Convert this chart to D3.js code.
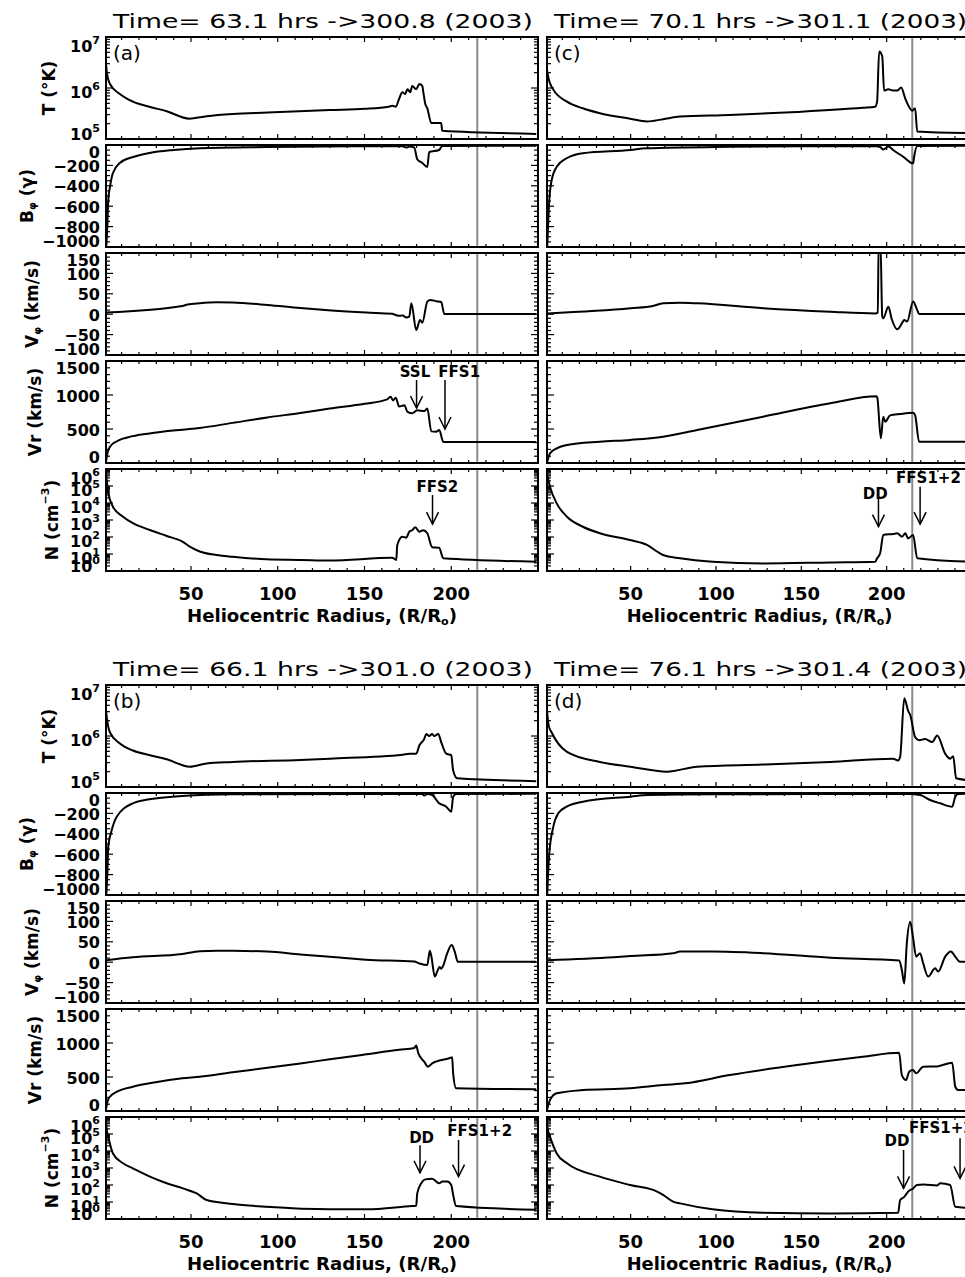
<!DOCTYPE html>
<html>
<head>
<meta charset="utf-8">
<script src="https://cdn.jsdelivr.net/npm/d3@7"></script>
<style>
  body { margin: 0; background: #fff; }
  svg { display: block; }
  text { font-family: "DejaVu Sans", sans-serif; fill: #000; }
</style>
</head>
<body>
<div id="chart"></div>
<script>
// ---- data: [radius (R/Ro), value] ----
const tempA = [[1,2.9e6],[1.5,2e6],[2.2,1.5e6],[3.3,1.2e6],[9,7.6e5],[16.5,5.4e5],[26,4.3e5],[36,3.5e5],[49,2.5e5],[59,2.8e5],[74,3.1e5],[94,3.3e5],[130,3.7e5],[150,3.9e5],[164,4.3e5],[166,4.5e5],[168,4.3e5],[170,6.2e5],[171.8,8.3e5],[173.5,7.6e5],[174.7,9.5e5],[176.4,8.3e5],[177.5,1.1e6],[179.8,9.5e5],[181.6,1.2e6],[183.3,1.1e6],[183.9,8.3e5],[185,4.9e5],[186.2,4e5],[188.5,2.05e5],[194.2,2.05e5],[194.8,1.45e5],[249,1.26e5]];
const bphiA = [[1,-1050],[1.75,-800],[2.3,-540],[3.3,-410],[5,-275],[9,-176],[16.5,-118],[26,-78],[40,-49],[55,-32],[94,-20],[150,-12],[172,-12],[174,-25],[176,-15],[178.7,-25],[180.4,-140],[183.3,-176],[186.2,-215],[187.3,-69],[193,-49],[194.8,-10],[249,-8]];
const vphiA = [[1,4],[45,20],[48,24],[55,27],[65,29],[74,28.5],[94,22.6],[113,15],[131,9],[151,4],[166,1],[168,-2],[170,-4],[172,-3],[174,-8],[175.8,-6],[177,27],[179.8,-39],[182,-14],[183.3,-21],[186.2,31],[187.9,35],[191.3,32],[194.2,30],[196,0.5],[249,0.5]];
const vrA = [[1,20],[2,160],[3.3,240],[7.3,320],[16.5,395],[26,435],[45,490],[55,515],[74,590],[94,670],[113,735],[130,800],[150,870],[163,935],[165,975],[166.5,920],[168,960],[170,830],[173,850],[174.7,755],[177.5,730],[180.4,775],[184.4,765],[186.2,800],[188.5,465],[191.3,460],[193.1,485],[195.4,310],[249,310]];
const densA = [[1,6e5],[1.5,1.8e5],[2.3,4e4],[5,6e3],[10.8,1.55e3],[16.5,650],[26.3,257],[36,115],[45.3,52],[49.3,27],[55,14],[64.8,8.7],[74,6.9],[93.6,4.9],[113,4.5],[130,4.1],[166,6],[168.3,4.5],[168.9,34],[171.8,105],[174,90],[175.8,204],[177.5,250],[179.3,370],[181.6,204],[183.9,250],[186.2,166],[189,25],[193,23],[195.4,5.6],[249,3.5]];

const tempB = [[1,3.1e6],[2,1.7e6],[3.3,1.17e6],[9,7.1e5],[16.5,5.2e5],[26.3,4.2e5],[36,3.5e5],[49.3,2.5e5],[59,2.9e5],[74,3.1e5],[113,3.4e5],[130,3.6e5],[172,4.3e5],[176,4.5e5],[179.8,4.5e5],[181.6,6.5e5],[184.4,8.7e5],[185.6,1.1e6],[187.3,1e6],[189,1.1e6],[190.2,1e6],[192.5,1.1e6],[194.2,7.6e5],[197.1,4.5e5],[200,4.2e5],[201.1,2.1e5],[203.4,1.48e5],[249,1.3e5]];
const bphiB = [[1,-1050],[1.75,-800],[2.3,-526],[4.3,-363],[7.2,-232],[16.5,-101],[26,-62],[45,-29],[74,-13],[150,-10],[183,-10],[184.4,-25],[186.2,-10],[189,-20],[193,-101],[197.1,-134],[200,-183],[201.1,-36],[202.8,-10],[249,-8]];
const vphiB = [[1,5],[16.5,12],[45,20],[55,27],[65,28],[74,28],[94,26],[113,19],[130,13.5],[151,6],[178.7,1.5],[181.6,-3],[186.2,-7],[187.6,28],[188.5,15],[190.5,-35],[192,-22],[193.2,-12],[194.2,-16],[195.2,-10],[197.7,22],[200.2,42],[202,26],[203.8,1],[249,1]];
const vrB = [[1,25],[2,150],[3.3,210],[7.3,284],[16.5,357],[26,407],[45,481],[55,504],[74,570],[94,635],[113,700],[130,760],[150,830],[170,900],[178.7,925],[179.8,965],[181,850],[184.4,725],[186.7,651],[189,700],[198.8,775],[200.5,790],[201.1,554],[202.8,334],[249,319]];
const densB = [[1,5e5],[1.5,1.6e5],[2.3,7e4],[5,7.2e3],[10.8,1.9e3],[16.5,955],[26.3,309],[36,126],[45.3,63],[53.3,32],[59,13],[74,7.6],[93.6,5.2],[130,3.7],[151,3.7],[177.5,5.8],[179.8,6],[180.4,32],[182.7,126],[185,214],[189,234],[193,126],[194.8,158],[197.7,158],[200,100],[201.1,26],[202.8,5.8],[249,3.5]];

const tempC = [[1,2.3e6],[2,1.5e6],[4.5,9.5e5],[12.7,5.4e5],[22,4e5],[32,3.2e5],[49.7,2.5e5],[59.6,2.2e5],[69,2.45e5],[79,2.75e5],[108,2.95e5],[147.5,3.4e5],[186,4.1e5],[193.3,4.3e5],[194.4,5.4e5],[195.6,5.2e6],[197.4,4.2e6],[198.5,8.9e5],[200.9,9.5e5],[203.8,8.9e5],[206.2,8.9e5],[208.5,1.02e6],[210.9,6.2e5],[212.6,4.6e5],[215,3.6e5],[216.7,4e5],[217.9,1.4e5],[249,1.3e5]];
const bphiC = [[1,-1050],[1.6,-800],[2.35,-540],[3.75,-343],[6.7,-213],[12.5,-130],[22,-81],[50,-49],[59,-32],[108,-17],[150,-12],[194,-12],[196.2,-20],[198,-45],[201,-15],[203.8,-49],[209.7,-115],[215.5,-180],[216.1,-115],[217.9,-10],[249,-8]];
const vphiC = [[1,2],[50,14.5],[63,20],[69,26.7],[79,28],[89,26.7],[127.6,14.5],[167,6],[193.3,2],[194.8,4],[195.3,170],[196.4,170],[197.4,-5],[198,-10],[201,18],[203,-12.5],[206.2,-37],[209,-22],[210.3,-14],[212,-18],[215.5,31],[217.9,10],[219,0.5],[249,0.5]];
const vrC = [[1,4],[2.8,143],[6.7,216],[12.7,265],[32,313],[49.7,340],[69,387],[89,485],[127.6,681],[167,878],[193.9,980],[194.5,960],[196.6,363],[198,681],[199.2,607],[202,700],[207.7,720],[215.5,739],[216.7,700],[219,313],[249,313]];
const densC = [[1,5.6e5],[2.76,9e4],[6.7,9.5e3],[12.7,1.55e3],[22,400],[32,166],[49.7,66],[59.6,34],[65.5,14],[69,8.7],[79,5.6],[98,3.5],[127.6,2.8],[167,3.2],[193.3,3.5],[194.4,5.6],[196.2,11],[198,132],[203.8,151],[206.2,166],[209,105],[210.9,166],[212.6,83],[215.5,132],[217.9,5.6],[249,3.5]];

const tempD = [[1,3.1e6],[2,1.6e6],[3.75,1.17e6],[12.7,4.9e5],[32,3.1e5],[49.7,2.5e5],[71.3,2e5],[89,2.5e5],[127.6,2.75e5],[166.9,3.1e5],[203.8,3.6e5],[206.7,3.3e5],[207.9,3.9e5],[210.3,5.5e6],[212.6,3.1e6],[213.8,2.6e6],[216.7,9.5e5],[219,8.3e5],[222.6,8.7e5],[226.7,7.6e5],[229.6,1.02e6],[234.3,4.5e5],[237.2,3.6e5],[239,4e5],[240.7,1.48e5],[249,1.35e5]];
const bphiD = [[1,-1050],[1.6,-800],[2.35,-591],[4.7,-330],[7.6,-199],[12.5,-134],[22,-85],[50,-36],[60,-20],[100,-12],[213,-10],[219.6,-20],[225.5,-69],[231.4,-101],[238.4,-134],[240.2,-36],[241.9,-10],[249,-8]];
const vphiD = [[1,5],[40,12],[50,15],[75,22],[79,26],[98,26],[127.6,22],[167,11],[207.3,4],[208.9,-19],[210.3,-52],[211.8,46],[213.8,99],[215.4,62],[217.3,13.5],[219.6,22],[221.4,-3],[224.3,-35],[228.4,-15],[230.2,-23],[234.3,13.5],[237.6,26],[240.2,13.5],[243,1],[249,1]];
const vrD = [[1,15],[2.76,162],[6.7,260],[22,309],[49.7,334],[69,382],[82,407],[108,529],[147.5,676],[186,798],[207.3,857],[208.9,529],[211.4,456],[213.2,578],[215.4,603],[217.3,554],[221.4,651],[229.6,656],[238.4,710],[240.2,357],[241.9,309],[249,309]];
const densD = [[1,6e5],[1.5,1.8e5],[2.76,7e4],[6.7,7.2e3],[12.7,1.9e3],[32,309],[49.7,100],[65.5,41],[69,26],[74.9,10.5],[79,8.3],[98,3.7],[127.6,2.3],[167,2.1],[206.7,2.3],[207.9,13],[210.3,20],[212.6,41],[215.5,63],[217.7,100],[221.4,107],[229.6,95],[231.4,126],[237.2,100],[240.2,5.2],[249,4.5]];

// annotations: arrow at r, from tailV down to tipV; label centred at (textR, textV)
const notesA = [
  { sub: 4 - 1, text: "SSL", r: 180, textR: 179.1, textV: 1338, tailV: 1220, tipV: 808 },
  { sub: 3, text: "FFS1", r: 196.4, textR: 204.6, textV: 1338, tailV: 1220, tipV: 500 },
  { sub: 4, text: "FFS2", r: 189.2, textR: 192, textV: 8.3e4, tailV: 2.95e4, tipV: 575 },
];
const notesB = [
  { sub: 4, text: "DD", r: 182, textR: 182.9, textV: 5.6e4, tailV: 2.2e4, tipV: 525 },
  { sub: 4, text: "FFS1+2", r: 204.2, textR: 216.4, textV: 1.55e5, tailV: 4.5e4, tipV: 309 },
];
const notesC = [
  { sub: 4, text: "DD", r: 195.2, textR: 193.3, textV: 3.4e4, tailV: 1.9e4, tipV: 407 },
  { sub: 4, text: "FFS1+2", r: 219.6, textR: 224.5, textV: 2.8e5, tailV: 9.1e4, tipV: 575 },
];
const notesD = [
  { sub: 4, text: "DD", r: 209.9, textR: 206, textV: 4e4, tailV: 1.15e4, tipV: 63 },
  { sub: 4, text: "FFS1+2", r: 243, textR: 232.1, textV: 2.2e5, tailV: 5.6e4, tipV: 245 },
];

const xDomain = [1, 250];
const xMajor = [50, 100, 150, 200];
const earthR = 215;

const panels = [
  { label: "(a)", title: "Time= 63.1 hrs ->300.8 (2003)", col: 0, row: 0, series: [tempA, bphiA, vphiA, vrA, densA], notes: notesA },
  { label: "(c)", title: "Time= 70.1 hrs ->301.1 (2003)", col: 1, row: 0, series: [tempC, bphiC, vphiC, vrC, densC], notes: notesC },
  { label: "(b)", title: "Time= 66.1 hrs ->301.0 (2003)", col: 0, row: 1, series: [tempB, bphiB, vphiB, vrB, densB], notes: notesB },
  { label: "(d)", title: "Time= 76.1 hrs ->301.4 (2003)", col: 1, row: 1, series: [tempD, bphiD, vphiD, vrD, densD], notes: notesD },
];

const vars = [
  { log: true, domain: [1e5, 1e7], titleX: 49 },
  { log: false, domain: [-1000, 0], major: 200, minor: 50, titleX: 27 },
  { log: false, domain: [-100, 150], major: 50, minor: 10, titleX: 32 },
  { log: false, domain: [0, 1500], major: 500, minor: 100, titleX: 35 },
  { log: true, domain: [1, 1e6], titleX: 52 },
];

// ---- layout ----
const colRanges = [[106, 538], [547, 972]];
const blockOffsets = [0, 648];
const subTops = [37, 145, 253, 361, 469];
const subH = 102;

const svg = d3.select("#chart").append("svg").attr("width", 965).attr("height", 1277);
const defs = svg.append("defs");
let clipId = 0;

function yTitle(g, i, cx, cy) {
  const t = g.append("text")
    .attr("transform", `translate(${cx},${cy}) rotate(-90)`)
    .attr("text-anchor", "middle").attr("dominant-baseline", "central")
    .attr("font-size", 17).attr("font-weight", "bold");
  if (i === 0) t.text("T (\u00b0K)");
  if (i === 1) { t.append("tspan").text("B"); t.append("tspan").attr("font-size", 10).attr("dy", 5).text("\u03c6"); t.append("tspan").attr("dy", -5).text(" (\u03b3)"); }
  if (i === 2) { t.append("tspan").text("V"); t.append("tspan").attr("font-size", 10).attr("dy", 5).text("\u03c6"); t.append("tspan").attr("dy", -5).text(" (km/s)"); }
  if (i === 3) t.text("Vr (km/s)");
  if (i === 4) { t.append("tspan").text("N (cm"); t.append("tspan").attr("font-size", 11).attr("dy", -7).text("\u22123"); t.append("tspan").attr("dy", 7).text(")"); }
}

function drawPanel(p) {
  const [x0, x1] = colRanges[p.col];
  const off = blockOffsets[p.row];
  const x = d3.scaleLinear().domain(xDomain).range([x0, x1]);
  const g = svg.append("g");

  g.append("text").attr("x", x0 + 7).attr("y", off + 28)
    .attr("font-size", 19)
    .attr("textLength", (x1 - x0) * 0.972).attr("lengthAdjust", "spacingAndGlyphs")
    .text(p.title);

  const yScales = [];
  vars.forEach((v, i) => {
    const top = off + subTops[i];
    const bottom = top + subH;
    const y = (v.log ? d3.scaleLog() : d3.scaleLinear()).domain(v.domain).range([bottom, top]);
    yScales.push(y);

    const id = "clip" + (clipId++);
    defs.append("clipPath").attr("id", id)
      .append("rect").attr("x", x0).attr("y", top).attr("width", x1 - x0).attr("height", subH);

    // 1 AU marker
    g.append("line")
      .attr("x1", x(earthR)).attr("x2", x(earthR)).attr("y1", top).attr("y2", bottom)
      .attr("stroke", "#8a8a8a").attr("stroke-width", 2);

    const line = d3.line().x(d => x(d[0])).y(d => y(d[1])).curve(d3.curveMonotoneX);
    g.append("path").datum(p.series[i])
      .attr("clip-path", `url(#${id})`)
      .attr("d", line).attr("fill", "none").attr("stroke", "#000").attr("stroke-width", 2);

    g.append("rect").attr("x", x0).attr("y", top).attr("width", x1 - x0).attr("height", subH)
      .attr("fill", "none").attr("stroke", "#000").attr("stroke-width", 2);

    // x ticks (top & bottom, inward)
    const xMinor = d3.range(10, 250, 10).filter(t => t % 50 !== 0);
    const xt = xMajor.map(t => [t, 5]).concat(xMinor.map(t => [t, 3]));
    xt.forEach(([t, len]) => {
      g.append("line").attr("x1", x(t)).attr("x2", x(t)).attr("y1", top).attr("y2", top + len)
        .attr("stroke", "#000").attr("stroke-width", 1.2);
      g.append("line").attr("x1", x(t)).attr("x2", x(t)).attr("y1", bottom).attr("y2", bottom - len)
        .attr("stroke", "#000").attr("stroke-width", 1.2);
    });

    // y ticks
    let majors, minors;
    if (v.log) {
      const k0 = Math.round(Math.log10(v.domain[0])), k1 = Math.round(Math.log10(v.domain[1]));
      majors = d3.range(k0, k1 + 1).map(k => Math.pow(10, k));
      minors = [];
      d3.range(k0, k1).forEach(k => d3.range(2, 10).forEach(m => minors.push(m * Math.pow(10, k))));
    } else {
      majors = d3.range(v.domain[0], v.domain[1] + 1, v.major);
      minors = d3.range(v.domain[0], v.domain[1], v.minor).filter(t => (t - v.domain[0]) % v.major !== 0);
    }
    majors.map(t => [t, 7]).concat(minors.map(t => [t, 4])).forEach(([t, len]) => {
      g.append("line").attr("x1", x0).attr("x2", x0 + len).attr("y1", y(t)).attr("y2", y(t))
        .attr("stroke", "#000").attr("stroke-width", 1.2);
      g.append("line").attr("x1", x1).attr("x2", x1 - len).attr("y1", y(t)).attr("y2", y(t))
        .attr("stroke", "#000").attr("stroke-width", 1.2);
    });

    if (p.col === 0) {
      majors.forEach(t => {
        if (v.log) {
          const ly = Math.max(top + 9, Math.min(bottom - 5, y(t) + 4));
          const tx = g.append("text").attr("x", x0 - 6).attr("y", ly)
            .attr("text-anchor", "end").attr("dominant-baseline", "central")
            .attr("font-size", 16).attr("font-weight", "bold");
          tx.append("tspan").text("10");
          tx.append("tspan").attr("font-size", 11).attr("dy", -6).text(Math.round(Math.log10(t)));
        } else {
          const ly = Math.max(top + 7, Math.min(bottom - 6, y(t) + 1));
          g.append("text").attr("x", x0 - 6).attr("y", ly)
            .attr("text-anchor", "end").attr("dominant-baseline", "central")
            .attr("font-size", 16).attr("font-weight", "bold")
            .text(t < 0 ? "\u2212" + (-t) : t);
        }
      });
      yTitle(g, i, v.titleX, top + subH / 2);
    }

    if (i === 4) {
      xMajor.forEach(t => {
        g.append("text").attr("x", x(t)).attr("y", bottom + 29)
          .attr("text-anchor", "middle").attr("font-size", 18).attr("font-weight", "bold").text(t);
      });
      const xt2 = g.append("text").attr("x", (x0 + x1) / 2).attr("y", bottom + 51)
        .attr("text-anchor", "middle").attr("font-size", 18).attr("font-weight", "bold")
        .attr("textLength", (x1 - x0) * 0.625).attr("lengthAdjust", "spacingAndGlyphs");
      xt2.append("tspan").text("Heliocentric Radius, (R/R");
      xt2.append("tspan").attr("font-size", 11).attr("dy", 3).text("o");
      xt2.append("tspan").attr("dy", -3).text(")");
    }
  });

  g.append("text").attr("x", x0 + 7).attr("y", off + subTops[0] + 23)
    .attr("font-size", 20).text(p.label);

  // shock / discontinuity markers
  p.notes.forEach(n => {
    const y = yScales[n.sub];
    const ax = x(n.r), yTail = y(n.tailV), yTip = y(n.tipV);
    g.append("line").attr("x1", ax).attr("x2", ax).attr("y1", yTail).attr("y2", yTip)
      .attr("stroke", "#000").attr("stroke-width", 1.5);
    g.append("polyline")
      .attr("points", `${ax - 6},${yTip - 12} ${ax},${yTip} ${ax + 6},${yTip - 12}`)
      .attr("fill", "none").attr("stroke", "#000").attr("stroke-width", 1.5);
    g.append("text").attr("x", x(n.textR)).attr("y", y(n.textV))
      .attr("text-anchor", "middle").attr("dominant-baseline", "central")
      .attr("font-size", 15).attr("font-weight", "bold").text(n.text);
  });
}

panels.forEach(drawPanel);
</script>
</body>
</html>
